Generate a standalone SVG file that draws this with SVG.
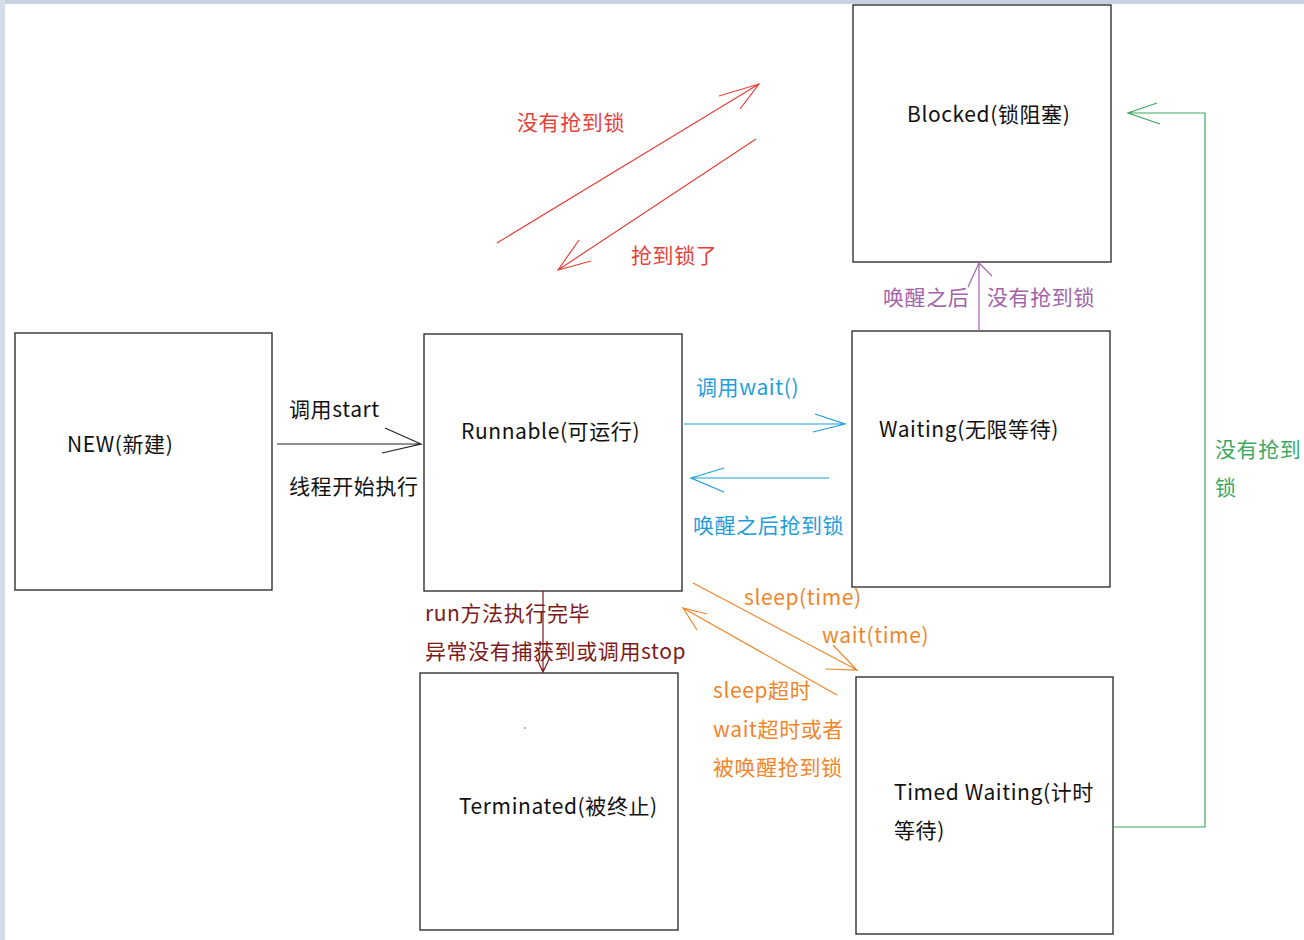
<svg xmlns="http://www.w3.org/2000/svg" width="1304" height="940" viewBox="0 0 1304 940">
<style>
.box{fill:#fff;stroke:#222;stroke-width:1.3}
text{font-family:"Noto Sans CJK SC","Noto Sans",sans-serif;font-size:21px;letter-spacing:0.6px}
.blk{fill:#111}
.red{fill:#e5423a}.redl{stroke:#e5423a}
.blu{fill:#1f9ddb}.blul{stroke:#1f9ddb}
.drd{fill:#7d1a1a}.drdl{stroke:#7d1a1a}
.org{fill:#f0852a}.orgl{stroke:#f0852a}
.pur{fill:#a263a9}.purl{stroke:#a263a9}
.grn{fill:#3ea862}.grnl{stroke:#3ea862}
.c{fill:none;stroke-width:1.2}
</style>
<rect width="1304" height="940" fill="#fff"/>
<rect x="0" y="0" width="1304" height="4" fill="#c6d2e0"/>
<rect x="0" y="0" width="5" height="940" fill="#d3dde9"/>
<g id="new"><rect class="box" x="15" y="333" width="257" height="257"/><text class="blk" x="67" y="452">NEW(新建)</text></g>
<g id="runnable"><rect class="box" x="424" y="334" width="258" height="257"/><text class="blk" x="461" y="439">Runnable(可运行)</text></g>
<g id="blocked"><rect class="box" x="853" y="5" width="258" height="257"/><text class="blk" x="907" y="122">Blocked(锁阻塞)</text></g>
<g id="waiting"><rect class="box" x="852" y="331" width="258" height="256"/><text class="blk" x="879" y="437">Waiting(无限等待)</text></g>
<g id="terminated"><rect class="box" x="420" y="673" width="258" height="257"/><text class="blk" x="459" y="814">Terminated(被终止)</text><circle cx="525" cy="728" r="0.8" fill="#555"/></g>
<g id="timed"><rect class="box" x="856" y="677" width="257" height="257"/><text class="blk" x="894" y="800">Timed Waiting(计时</text><text class="blk" x="894" y="838">等待)</text></g>
<g id="connectors">
<path class="c" stroke="#222" d="M277 444H421M385 428L421 444L382 453"/>
<path class="c redl" d="M497 243L759 84M719 96L759 84L740 109"/>
<path class="c redl" d="M756 139L558 270M579 240L558 270L591 261"/>
<path class="c blul" d="M684 424H845M815 414L845 424L813 432"/>
<path class="c blul" d="M829 478H691M724 468L691 478L724 492"/>
<path class="c drdl" d="M543 591V672M536 657L543 672L550 657"/>
<path class="c orgl" d="M693 583L857 670M833 645L857 670L825 669"/>
<path class="c orgl" d="M837 695L683 608M707 614L683 608L697 630"/>
<path class="c purl" d="M979 331V263M968 287L979 263L992 276"/>
<path class="c grnl" d="M1114 827H1205V113H1128M1157 103L1128 113L1160 124"/>
</g>
<g id="labels">
<text class="blk" x="289" y="417">调用start</text>
<text class="blk" x="289" y="494">线程开始执行</text>
<text class="red" x="517" y="130">没有抢到锁</text>
<text class="red" x="631" y="263">抢到锁了</text>
<text class="blu" x="696" y="395">调用wait()</text>
<text class="blu" x="693" y="533">唤醒之后抢到锁</text>
<text class="drd" x="425" y="621">run方法执行完毕</text>
<text class="drd" x="425" y="659">异常没有捕获到或调用stop</text>
<text class="org" x="744" y="605">sleep(time)</text>
<text class="org" x="822" y="643">wait(time)</text>
<text class="org" x="713" y="698">sleep超时</text>
<text class="org" x="713" y="737">wait超时或者</text>
<text class="org" x="713" y="775">被唤醒抢到锁</text>
<text class="pur" x="883" y="305">唤醒之后</text>
<text class="pur" x="987" y="305">没有抢到锁</text>
<text class="grn" x="1215" y="457">没有抢到</text>
<text class="grn" x="1215" y="495">锁</text>
</g>
</svg>
